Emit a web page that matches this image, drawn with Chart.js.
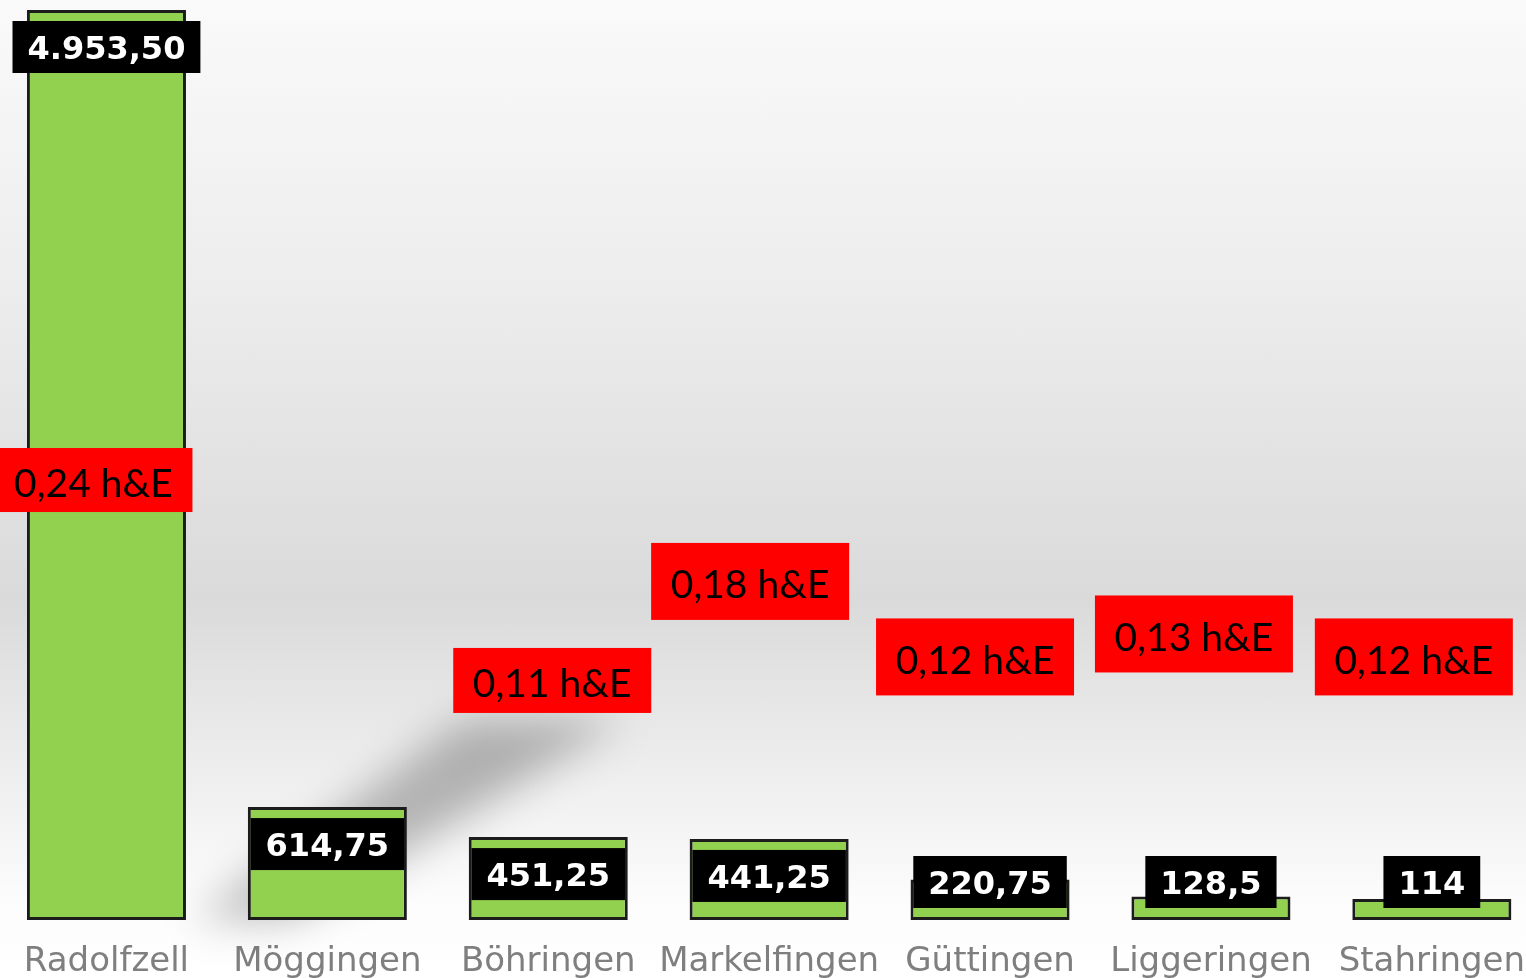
<!DOCTYPE html>
<html>
<head>
<meta charset="utf-8">
<script src="https://cdn.jsdelivr.net/npm/chart.js@4"></script>
<style>
  html, body { margin: 0; padding: 0; overflow: hidden; }
  body {
    width: 1526px; height: 978px; position: relative;
    background: linear-gradient(to bottom, #fafafa 0px, #ececec 300px, #dadada 600px, #e6e6e6 700px, #f3f3f3 820px, #fcfcfc 900px, #ffffff 978px);
  }
  #wrap { position: absolute; left: -4px; top: 0; width: 1551px; height: 978px; }
</style>
</head>
<body>
<div id="wrap"><canvas id="myChart"></canvas></div>
<script>
// data
const places = ['Radolfzell', 'Möggingen', 'Böhringen', 'Markelfingen', 'Güttingen', 'Liggeringen', 'Stahringen'];
const hours = [4953.5, 614.75, 451.25, 441.25, 220.75, 128.5, 114];
const hourLabels = ['4.953,50', '614,75', '451,25', '441,25', '220,75', '128,5', '114'];
const ratioLabels = ['0,24 h&E', null, '0,11 h&E', '0,18 h&E', '0,12 h&E', '0,13 h&E', '0,12 h&E'];
// height (in axis units) where each red box sits
const ratioLevel = [2395, null, 1304, 1843, 1432, 1557, 1432];

// small hand offsets for the red boxes
const redDx = [-13, 0, 4, -19, -15, -17, -18];
const redH = [64, 0, 65, 77, 77, 77, 77];

const shadowPlugin = {
  id: 'shadow',
  beforeDatasetsDraw(chart) {
    const ctx = chart.ctx;
    const bar = chart.getDatasetMeta(0).data[1];
    const base = chart.scales.y.getPixelForValue(0);
    const x0 = bar.x - bar.width / 2;
    ctx.save();
    ctx.filter = 'blur(20px)';
    ctx.fillStyle = 'rgba(0,0,0,0.26)';
    ctx.beginPath();
    ctx.moveTo(x0 - 55, base);
    ctx.lineTo(x0 + 215, base - 200);
    ctx.lineTo(x0 + 375, base - 200);
    ctx.lineTo(x0 + 45, base);
    ctx.closePath();
    ctx.fill();
    ctx.restore();
  }
};

const labelPlugin = {
  id: 'labels',
  afterDatasetsDraw(chart) {
    const ctx = chart.ctx;
    const y = chart.scales.y;
    const base = y.getPixelForValue(0);
    ctx.save();
    chart.getDatasetMeta(0).data.forEach((bar, i) => {
      // black value box
      ctx.font = 'bold 32px "DejaVu Sans"';
      const tw = ctx.measureText(hourLabels[i]).width;
      const bw = tw + 30;
      const top = Math.min(bar.y + 11, base - 64);
      ctx.fillStyle = '#000';
      ctx.fillRect(bar.x - bw / 2, top, bw, 52);
      ctx.fillStyle = '#fff';
      ctx.textAlign = 'center';
      ctx.textBaseline = 'middle';
      ctx.fillText(hourLabels[i], bar.x, top + 30);

      // red ratio box
      if (ratioLabels[i]) {
        const cy = y.getPixelForValue(ratioLevel[i]);
        const cx = bar.x + redDx[i];
        ctx.fillStyle = '#ff0000';
        ctx.fillRect(cx - 99, cy - redH[i] / 2, 198, redH[i]);
        ctx.fillStyle = '#000';
        ctx.font = '39px Lato';
        ctx.fillText(ratioLabels[i], cx, cy + 4);
      }
    });
    ctx.restore();
  }
};

const ctx = document.getElementById('myChart').getContext('2d');
new Chart(ctx, {
  type: 'bar',
  data: {
    labels: places,
    datasets: [
      {
        data: hours,
        backgroundColor: '#92d050',
        borderColor: '#1c1c1c',
        borderWidth: 3,
        borderSkipped: false,
        barPercentage: 0.72,
        categoryPercentage: 1
      }
    ]
  },
  options: {
    responsive: true,
    maintainAspectRatio: false,
    animation: false,
    layout: { padding: { top: 10, left: 0, right: 0, bottom: 0 } },
    plugins: { legend: { display: false }, tooltip: { enabled: false } },
    scales: {
      x: {
        grid: { display: false, drawTicks: false },
        border: { display: false },
        ticks: {
          color: '#7f7f7f',
          font: { family: 'DejaVu Sans', size: 34 },
          padding: 22,
          maxRotation: 0,
          autoSkip: false
        },
        afterFit(scale) { scale.height = 58; }
      },
      y: {
        display: false,
        min: 0,
        max: 4953.5
      }
    }
  },
  plugins: [shadowPlugin, labelPlugin]
});
</script>
</body>
</html>
